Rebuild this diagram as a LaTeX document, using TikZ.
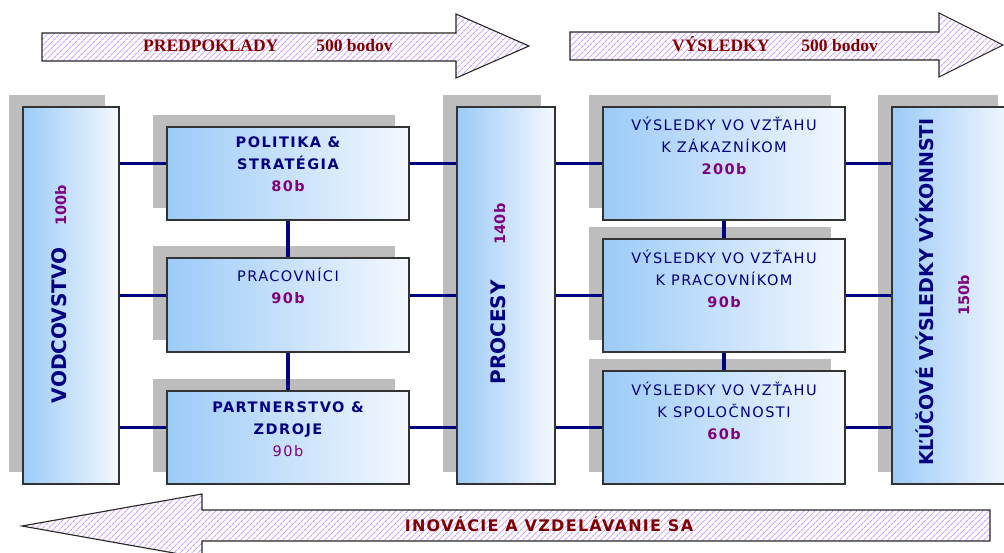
\documentclass[tikz,border=0pt]{standalone}
\usepackage{fontspec}
\usetikzlibrary{calc,shadows,patterns.meta}
\newfontfamily\boxfont[LetterSpace=10]{DejaVu Sans}
\newfontfamily\widefont[LetterSpace=8]{DejaVu Sans}
\newfontfamily\vfont{DejaVu Sans}
\newfontfamily\arrowserif{Liberation Serif}
\definecolor{navy}{HTML}{000080}
\definecolor{numpurple}{HTML}{800080}
\definecolor{darkred}{HTML}{800000}
\definecolor{lilac}{HTML}{C9A3F5}
\definecolor{boxblue}{HTML}{9CCBF8}
\definecolor{boxlight}{HTML}{F4F8FE}
\definecolor{shadowgray}{HTML}{BDBDBD}
\tikzset{
  box/.style={rectangle, draw=black!80, line width=1.1pt, left color=boxblue, right color=boxlight, inner sep=0pt,
    general shadow={shadow xshift=-14pt, shadow yshift=12pt, fill=shadowgray, draw=none}},
  conn/.style={draw=navy, line width=3.5pt},
  bigarrow/.style={draw=black!85, line width=1.1pt, pattern={Lines[angle=45,distance=4pt,line width=1.1pt]}, pattern color=lilac},
  btxt/.style={font=\boxfont\bfseries\fontsize{14.5}{22}\selectfont, text=navy, align=center, inner sep=0pt},
  rtxt/.style={font=\boxfont\fontsize{14.5}{22}\selectfont, text=navy, align=center, inner sep=0pt},
  vtxt/.style={font=\vfont\bfseries\fontsize{20}{24}\selectfont, text=navy, inner sep=0pt, rotate=90, anchor=base},
  atxt/.style={font=\arrowserif\bfseries\fontsize{17.5}{20}\selectfont, text=darkred, inner sep=0pt, anchor=base west}
}
\newcommand{\numtxt}[1]{{\color{numpurple}#1}}
\begin{document}
\begin{tikzpicture}[x=1pt,y=-1pt]
\useasboundingbox (0,0) rectangle (1004,552);
\clip (0,0) rectangle (1004,552);

% big arrows
\draw[bigarrow] (42,33) -- (456,33) -- (456,14) -- (529,46) -- (456,78) -- (456,61) -- (42,61) -- cycle;
\draw[bigarrow] (570,32) -- (939,32) -- (939,13) -- (1003,45) -- (939,77) -- (939,60) -- (570,60) -- cycle;
\draw[bigarrow] (990,510) -- (202,510) -- (202,494) -- (22,526) -- (202,558) -- (202,541) -- (990,541) -- cycle;

\node[atxt] (a1) at (143,51) {PREDPOKLADY\hspace{38pt}500 bodov};
\node[atxt] (a2) at (672,51) {VÝSLEDKY\hspace{32pt}500 bodov};
\node[font=\widefont\bfseries\fontsize{16}{18}\selectfont, text=darkred, inner sep=0pt, anchor=base] (a3) at (549,531) {INOVÁCIE A VZDELÁVANIE SA};

% boxes
\node[box, minimum width=96pt, minimum height=377pt] (vod) at (71,295.5) {};
\node[box, minimum width=242pt, minimum height=93pt] (pol) at (288,173.5) {};
\node[box, minimum width=242pt, minimum height=94pt] (prac) at (288,305) {};
\node[box, minimum width=242pt, minimum height=93pt] (part) at (288,437.5) {};
\node[box, minimum width=98pt, minimum height=377pt] (proc) at (506,295.5) {};
\node[box, minimum width=242pt, minimum height=113pt] (res1) at (724,163.5) {};
\node[box, minimum width=242pt, minimum height=113pt] (res2) at (724,295.5) {};
\node[box, minimum width=242pt, minimum height=113pt] (res3) at (724,427.5) {};
\node[box, minimum width=120pt, minimum height=377pt] (kl) at (952,295.5) {};

% connectors
\foreach \r in {res1,res2,res3}{
  \draw[conn] (vod.east |- \r) -- (pol.west |- \r);
  \draw[conn] (pol.east |- \r) -- (proc.west |- \r);
  \draw[conn] (proc.east |- \r) -- (\r.west);
  \draw[conn] (\r.east) -- (kl.west |- \r);
}
\draw[conn] (pol.south) -- (prac.north);
\draw[conn] (prac.south) -- (part.north);
\draw[conn] (res1.south) -- (res2.north);
\draw[conn] (res2.south) -- (res3.north);

% texts
\node[vtxt] (vodt) at (66,294) {VODCOVSTVO\hspace{22pt}{\color{numpurple}\fontsize{14.5}{16}\selectfont 100b}};
\node[vtxt] (proct) at (505,294) {PROCESY\hspace{36pt}{\color{numpurple}\fontsize{14.5}{16}\selectfont 140b}};
\node[vtxt, font=\vfont\bfseries\fontsize{19}{22}\selectfont] (klt) at (933,292) {KĽÚČOVÉ VÝSLEDKY VÝKONNSTI};
\node[vtxt, font=\vfont\bfseries\fontsize{14.5}{16}\selectfont, text=numpurple] (klb) at (969,295) {150b};

\node[btxt] (polt) at ($(pol.north)+(0,38)$) {POLITIKA \&\\STRATÉGIA\\\numtxt{80b}};
\node[rtxt] (pract) at ($(prac.north)+(0,28)$) {PRACOVNÍCI\\{\bfseries\numtxt{90b}}};
\node[btxt] (partt) at ($(part.north)+(0,39)$) {PARTNERSTVO \&\\ZDROJE\\{\mdseries\numtxt{90b}}};
\node[rtxt] (res1t) at ($(res1.north)+(0,39.5)$) {VÝSLEDKY VO VZŤAHU\\K ZÁKAZNÍKOM\\{\bfseries\numtxt{200b}}};
\node[rtxt] (res2t) at ($(res2.north)+(0,40.5)$) {VÝSLEDKY VO VZŤAHU\\K PRACOVNÍKOM\\{\bfseries\numtxt{90b}}};
\node[rtxt] (res3t) at ($(res3.north)+(0,40)$) {VÝSLEDKY VO VZŤAHU\\K SPOLOČNOSTI\\{\bfseries\numtxt{60b}}};
\end{tikzpicture}
\end{document}
